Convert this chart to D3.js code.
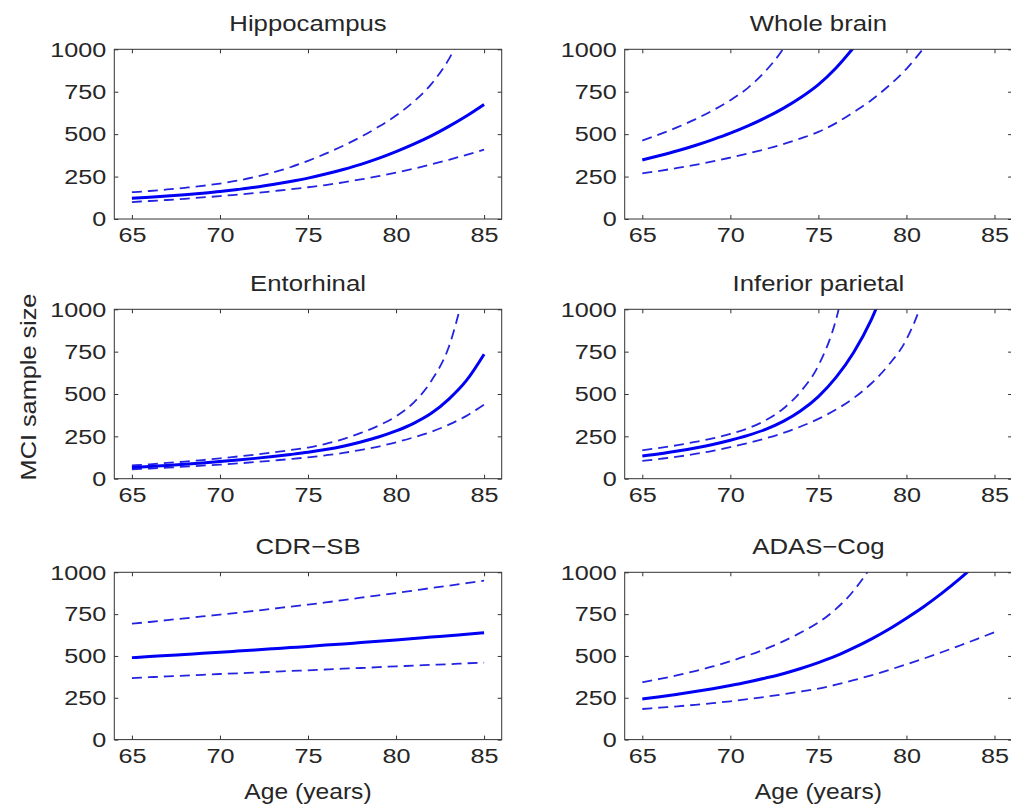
<!DOCTYPE html>
<html>
<head>
<meta charset="utf-8">
<script src="https://cdn.jsdelivr.net/npm/d3@7"></script>
<style>
  body { margin: 0; background: #fff; }
  text { font-family: "Liberation Sans", Arial, Helvetica, sans-serif; fill: #262626; }
  .tick text { font-size: 21px; }
</style>
</head>
<body>
<div id="chart"></div>
<script>
// ages on the x axis
const ages = [65, 66, 67, 68, 69, 70, 71, 72, 73, 74, 75, 76, 77, 78, 79, 80, 81, 82, 83, 84, 85];
const xTicks = [65, 70, 75, 80, 85];
const yTicks = [0, 250, 500, 750, 1000];
const titles = ["Hippocampus", "Whole brain", "Entorhinal", "Inferior parietal", "CDR\u2212SB", "ADAS\u2212Cog"];

// sample size estimates (solid) with lower / upper bounds (dashed)
// series that run off the top of the axes carry one value past 1000 and get clipped
const hipMid = [122, 128, 135, 143, 152, 162, 174, 187, 203, 221, 241, 265, 292, 322, 357, 397, 441, 490, 546, 607, 675];
const hipLo  = [100, 106, 112, 119, 127, 135, 144, 153, 164, 175, 187, 200, 216, 233, 252, 273, 296, 322, 349, 378, 409];
const hipHi  = [158, 165, 174, 184, 195, 209, 226, 248, 274, 305, 343, 385, 432, 484, 543, 610, 691, 795, 942, 1150];

const wbMid = [348, 374, 402, 433, 468, 506, 549, 597, 652, 716, 792, 890, 1010];
const wbLo  = [269, 284, 301, 319, 339, 362, 386, 412, 441, 475, 513, 565, 630, 700, 785, 885, 1010];
const wbHi  = [462, 500, 541, 587, 640, 700, 773, 872, 1003, 1188];

const entMid = [66, 72, 78, 85, 93, 101, 110, 120, 131, 143, 156, 172, 192, 217, 246, 282, 327, 386, 470, 580, 735];
const entLo  = [55, 60, 65, 71, 77, 83, 90, 98, 107, 116, 126, 138, 152, 170, 190, 215, 244, 277, 319, 371, 437];
const entHi  = [78, 85, 93, 101, 110, 120, 131, 142, 155, 169, 184, 206, 234, 270, 313, 368, 449, 577, 779, 1162];

const ipMid = [134, 147, 163, 181, 202, 227, 256, 291, 338, 401, 485, 598, 745, 938, 1192];
const ipLo  = [105, 117, 130, 146, 164, 186, 210, 238, 270, 308, 353, 408, 476, 562, 673, 822, 1087, 1543];
const ipHi  = [168, 182, 198, 217, 238, 264, 297, 345, 413, 515, 668, 939, 1428];

const cdrMid = [490, 496, 503, 509, 516, 522, 529, 536, 543, 550, 557, 565, 572, 580, 588, 596, 604, 613, 621, 630, 638];
const cdrLo  = [368, 373, 378, 382, 387, 392, 396, 401, 405, 410, 414, 419, 424, 428, 433, 438, 442, 447, 451, 456, 460];
const cdrHi  = [693, 703, 714, 725, 736, 747, 758, 770, 782, 795, 807, 820, 834, 848, 862, 876, 891, 906, 920, 935, 950];

const adMid = [243, 256, 271, 287, 304, 323, 344, 368, 394, 425, 460, 500, 548, 601, 660, 726, 796, 874, 959, 1052];
const adLo  = [183, 191, 199, 208, 218, 229, 242, 256, 271, 287, 305, 328, 355, 384, 416, 450, 485, 522, 561, 601, 642];
const adHi  = [343, 363, 385, 410, 437, 468, 503, 542, 587, 640, 700, 781, 890, 1039, 1244];

const mids = [hipMid, wbMid, entMid, ipMid, cdrMid, adMid];
const los  = [hipLo, wbLo, entLo, ipLo, cdrLo, adLo];
const his  = [hipHi, wbHi, entHi, ipHi, cdrHi, adHi];

// layout (pixels)
const colLeft = [114.3, 624.7], panelW = 387.4;
const rowTop = [49.3, 309.3, 572.3], rowH = [169.7, 169.4, 167.3];
const stretch = 1.2; // the original font is wider than Liberation Sans

const svg = d3.select("#chart")
  .append("svg")
  .attr("width", 1011)
  .attr("height", 807);

titles.forEach((title, i) => {
  const r = Math.floor(i / 2), c = i % 2;
  const w = panelW, h = rowH[r];

  const x = d3.scaleLinear().domain([64, 86]).range([0, w]);
  const y = d3.scaleLinear().domain([0, 1000]).range([h, 0]);

  const g = svg.append("g")
    .attr("transform", `translate(${colLeft[c]},${rowTop[r]})`);

  g.append("clipPath").attr("id", "clip" + i)
    .append("rect").attr("width", w).attr("height", h);

  const line = d3.line()
    .x(d => x(d[0]))
    .y(d => y(d[1]))
    .curve(d3.curveMonotoneX);

  const toPts = vals => vals.map((v, k) => [ages[k], v]);

  const plot = g.append("g").attr("clip-path", `url(#clip${i})`);

  // dashed bounds
  for (let vals of [los[i], his[i]]) {
    plot.append("path")
      .datum(toPts(vals))
      .attr("fill", "none")
      .attr("stroke", "#2424e0")
      .attr("stroke-width", 1.8)
      .attr("stroke-dasharray", "10,6")
      .attr("d", line);
  }

  // solid estimate
  plot.append("path")
    .datum(toPts(mids[i]))
    .attr("fill", "none")
    .attr("stroke", "#0000f5")
    .attr("stroke-width", 3)
    .attr("d", line);

  // axes, ticks pointing inward (matlab box style)
  g.append("g")
    .attr("transform", `translate(0,${h})`)
    .attr("color", "#333")
    .call(d3.axisBottom(x).tickValues(xTicks).tickSizeInner(-4).tickSizeOuter(0).tickPadding(8))
    .call(a => a.select(".domain").remove())
    .call(a => a.selectAll("text").attr("transform", `scale(${stretch},1)`));

  g.append("g")
    .attr("color", "#333")
    .call(d3.axisLeft(y).tickValues(yTicks).tickFormat(d3.format("d"))
      .tickSizeInner(-4).tickSizeOuter(0).tickPadding(8))
    .call(a => a.select(".domain").remove())
    .call(a => a.selectAll("text")
      .attr("x", -8 / stretch)
      .attr("transform", `scale(${stretch},1)`));

  g.append("g")
    .attr("color", "#333")
    .call(d3.axisTop(x).tickValues(xTicks).tickSizeInner(-4).tickSizeOuter(0).tickFormat(""))
    .call(a => a.select(".domain").remove());

  g.append("g")
    .attr("transform", `translate(${w},0)`)
    .attr("color", "#333")
    .call(d3.axisRight(y).tickValues(yTicks).tickSizeInner(-4).tickSizeOuter(0).tickFormat(""))
    .call(a => a.select(".domain").remove());

  g.append("rect")
    .attr("width", w)
    .attr("height", h)
    .attr("fill", "none")
    .attr("stroke", "#333")
    .attr("stroke-width", 1);

  g.append("text")
    .attr("transform", `translate(${w / 2},-18.5) scale(1.17,1)`)
    .attr("text-anchor", "middle")
    .style("font-size", "22px")
    .text(title);
});

// shared axis labels
svg.append("text")
  .attr("transform", "translate(36,387) rotate(-90) scale(1.15,1)")
  .attr("text-anchor", "middle")
  .style("font-size", "22px")
  .text("MCI sample size");

for (let c of [0, 1]) {
  svg.append("text")
    .attr("transform", `translate(${colLeft[c] + panelW / 2},799) scale(1.12,1)`)
    .attr("text-anchor", "middle")
    .style("font-size", "22px")
    .text("Age (years)");
}
</script>
</body>
</html>
